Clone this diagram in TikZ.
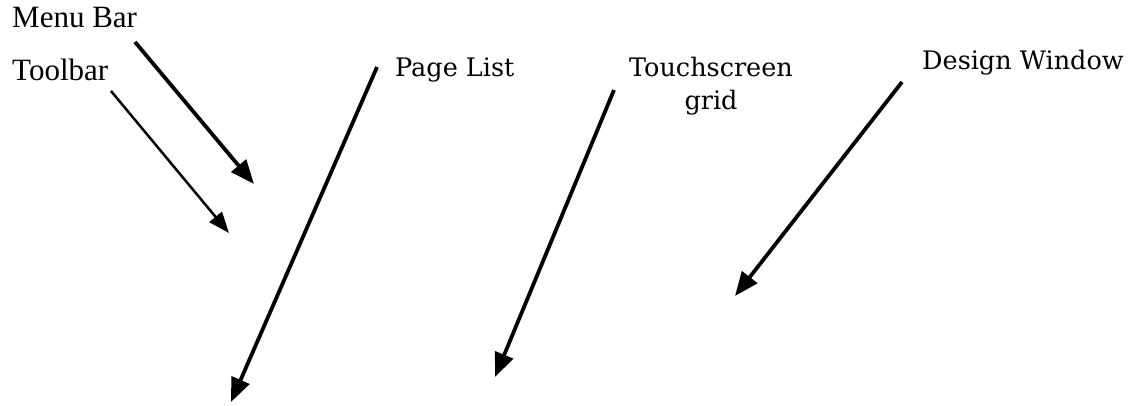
\documentclass[tikz,border=0pt]{standalone}
\usepackage{fontspec}
\setmainfont{Liberation Serif}
\newfontfamily\lblfont{DejaVu Serif}
\usetikzlibrary{arrows.meta}
\tikzset{
  lblA/.style={anchor=base west, inner sep=0pt, font=\fontsize{31}{36}\selectfont},
  lblB/.style={anchor=base west, inner sep=0pt, font=\lblfont\fontsize{25.5}{33}\selectfont},
  thickarrow/.style={line width=3.8pt, -{Triangle[length=24pt,width=19pt]}},
  thinarrow/.style={line width=2.5pt, -{Triangle[length=21pt,width=16pt]}}
}
\begin{document}
\begin{tikzpicture}[x=1pt,y=-1pt]
\useasboundingbox (0,0) rectangle (1138,406);
\node[lblA] (menubar) at (12,28) {Menu Bar};
\node[lblA] (toolbar) at (12,81) {Toolbar};
\node[lblB] (pagelist) at (395,77) {Page List};
\node[lblB, anchor=base, align=center] (touch) at (711,110) {Touchscreen\\grid};
\node[lblB] (design) at (922,70) {Design Window};
\coordinate (m1) at (135,42);
\coordinate (m2) at (254,184);
\coordinate (t1) at (111,91);
\coordinate (t2) at (229,233);
\coordinate (p1) at (377,67);
\coordinate (p2) at (231,402);
\coordinate (s1) at (614,90);
\coordinate (s2) at (495,377);
\coordinate (d1) at (902,82);
\coordinate (d2) at (735,296);
\draw[thickarrow] (m1) -- (m2);
\draw[thinarrow] (t1) -- (t2);
\draw[thickarrow] (p1) -- (p2);
\draw[thickarrow] (s1) -- (s2);
\draw[thickarrow] (d1) -- (d2);
\end{tikzpicture}
\end{document}
